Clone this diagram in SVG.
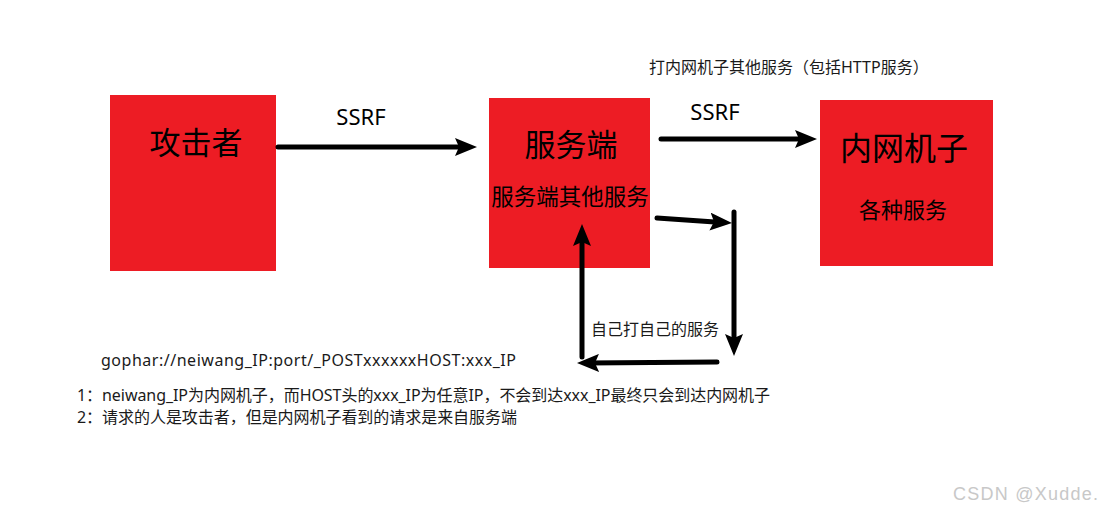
<svg xmlns="http://www.w3.org/2000/svg" width="1106" height="515" viewBox="0 0 1106 515">
<defs>
<style>
.box{fill:#ED1C24;}
.t{font-family:"Noto Sans","Noto Sans CJK SC",sans-serif;fill:#000;}
.cj{font-family:"Noto Sans CJK SC",sans-serif;fill:#000;}
.note{font-family:"Noto Sans","Noto Sans CJK SC",sans-serif;fill:#1a1a1a;font-size:16px;}
.ln{stroke:#000;stroke-width:5;stroke-linecap:round;fill:none;}
</style>
<marker id="ah" viewBox="0 0 22 18" refX="12" refY="9" markerWidth="22" markerHeight="18" markerUnits="userSpaceOnUse" orient="auto">
<path d="M0,0 L22,9 L0,18 L4,9 Z" fill="#000"/>
</marker>
</defs>
<rect width="1106" height="515" fill="#fff"/>
<g id="attacker">
<rect class="box" x="110" y="95" width="166" height="176"/>
<text class="cj" x="196" y="154" font-size="31" text-anchor="middle">攻击者</text>
</g>
<g id="server">
<rect class="box" x="489" y="98" width="161" height="170"/>
<text class="cj" x="571" y="156" font-size="31" text-anchor="middle">服务端</text>
<text class="cj" x="570" y="205" font-size="22.5" text-anchor="middle">服务端其他服务</text>
</g>
<g id="intranet">
<rect class="box" x="820" y="100" width="173" height="166"/>
<text class="cj" x="904" y="160" font-size="32" text-anchor="middle">内网机子</text>
<text class="cj" x="903" y="218" font-size="22" text-anchor="middle">各种服务</text>
</g>
<g id="connectors">
<line class="ln" x1="278" y1="147" x2="467" y2="147" marker-end="url(#ah)"/>
<line class="ln" x1="661" y1="139" x2="807" y2="139" marker-end="url(#ah)"/>
<line class="ln" x1="657" y1="218" x2="722" y2="222.4" marker-end="url(#ah)"/>
<line class="ln" x1="734" y1="212" x2="734" y2="346" marker-end="url(#ah)"/>
<line class="ln" x1="717" y1="362" x2="587" y2="363" marker-end="url(#ah)"/>
<line class="ln" x1="582" y1="357" x2="582" y2="234" marker-end="url(#ah)"/>
</g>
<g id="labels">
<text class="t" x="361" y="125" font-size="22" text-anchor="middle">SSRF</text>
<text class="t" x="715" y="120" font-size="22" text-anchor="middle">SSRF</text>
<text class="note" x="649" y="73">打内网机子其他服务（包括HTTP服务）</text>
<text class="note" x="591" y="335">自己打自己的服务</text>
<text class="note" x="101" y="366" textLength="415" lengthAdjust="spacing">gophar://neiwang_IP:port/_POSTxxxxxxHOST:xxx_IP</text>
<text class="note" x="77" y="401" font-size="15.5" textLength="693" lengthAdjust="spacing">1：neiwang_IP为内网机子，而HOST头的xxx_IP为任意IP，不会到达xxx_IP最终只会到达内网机子</text>
<text class="note" x="77" y="423" font-size="15.5" textLength="440" lengthAdjust="spacing">2：请求的人是攻击者，但是内网机子看到的请求是来自服务端</text>
<text x="953" y="500" font-family="Liberation Sans, sans-serif" font-size="18" fill="#c8c8c8" textLength="145" lengthAdjust="spacing">CSDN @Xudde.</text>
</g>
</svg>
